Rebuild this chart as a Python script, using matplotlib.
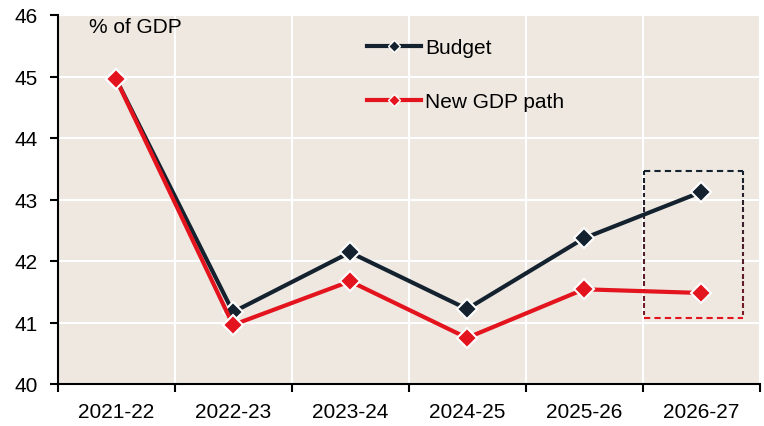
import matplotlib.pyplot as plt
import numpy as np
from matplotlib.collections import LineCollection
from matplotlib.colors import to_rgb
from matplotlib.lines import Line2D

plt.rcParams['font.family'] = ['Liberation Sans', 'DejaVu Sans']

years = ["2021-22", "2022-23", "2023-24", "2024-25", "2025-26", "2026-27"]
budget = [44.96, 41.17, 42.14, 41.22, 42.37, 43.12]
new_gdp_path = [44.96, 40.96, 41.67, 40.75, 41.54, 41.48]

navy = "#14222f"
red = "#e3141e"
bg = "#eee8e1"

fig = plt.figure(figsize=(7.64, 4.27), dpi=100)
ax = fig.add_axes([57.5 / 764, 1 - 385 / 427, 702 / 764, 369 / 427])
ax.set_facecolor(bg)

x = np.arange(len(years))
ax.plot(x, budget, color=navy, lw=3, marker="D", ms=10, mfc=navy,
        mec="white", mew=1.5, zorder=3)
ax.plot(x, new_gdp_path, color=red, lw=3, marker="D", ms=10, mfc=red,
        mec="white", mew=1.5, zorder=4)

# dashed box round the last year, fading from navy at the top to red at the bottom
bx0, bx1 = 4.515, 5.36
by0, by1 = 41.07, 43.47
c_top = np.array(to_rgb(navy))
c_bot = np.array(to_rgb(red))
dash, gap = 0.075, 0.045  # in y data units
segs, cols = [], []
y = by1
while y > by0:
    y_end = max(y - dash, by0)
    t = ((by1 + y_end) / 2 - by1) / (by0 - by1)
    t = min(max(t, 0), 1)
    for xs in (bx0, bx1):
        segs.append([(xs, y), (xs, y_end)])
        cols.append(c_top * (1 - t) + c_bot * t)
    y -= dash + gap
ax.add_collection(LineCollection(segs, colors=cols, linewidths=1.5, zorder=2))
ax.plot([bx0, bx1], [by1, by1], color=navy, lw=1.5, ls=(0, (3, 2)), zorder=2)
ax.plot([bx0, bx1], [by0, by0], color=red, lw=1.5, ls=(0, (3, 2)), zorder=2)

ax.set_xlim(-0.5, len(years) - 0.5)
ax.set_ylim(40, 46)
ax.set_yticks(range(40, 47))
ax.set_xticks(np.arange(-0.5, len(years)), labels=[])
ax.set_xticks(x, labels=years, minor=True)
ax.tick_params(axis="x", which="minor", length=0, pad=13, labelsize=15)
ax.tick_params(axis="x", which="major", length=6, width=1.5, direction="out")
ax.tick_params(axis="y", length=6, width=1.5, direction="out", labelsize=15, pad=8)
ax.grid(True, which="major", color="white", lw=1.5)
ax.set_axisbelow(True)
for s in ("top", "right"):
    ax.spines[s].set_visible(False)
for s in ("left", "bottom"):
    ax.spines[s].set_linewidth(1.5)

ax.text(0.045, 0.995, "% of GDP", transform=ax.transAxes, fontsize=15,
        va="top", ha="left")

handles = [
    Line2D([], [], color=navy, lw=3, marker="D", ms=6, mfc=navy, mec="white", mew=1),
    Line2D([], [], color=red, lw=3, marker="D", ms=6, mfc=red, mec="white", mew=1),
]
ax.legend(handles, ["Budget", "New GDP path"], loc="upper left",
          bbox_to_anchor=(0.4406, 0.9365), frameon=False, fontsize=15,
          handlelength=2.6, handletextpad=0.2, labelspacing=1.65,
          borderpad=0, borderaxespad=0)

fig.savefig("out.png", dpi=100)
